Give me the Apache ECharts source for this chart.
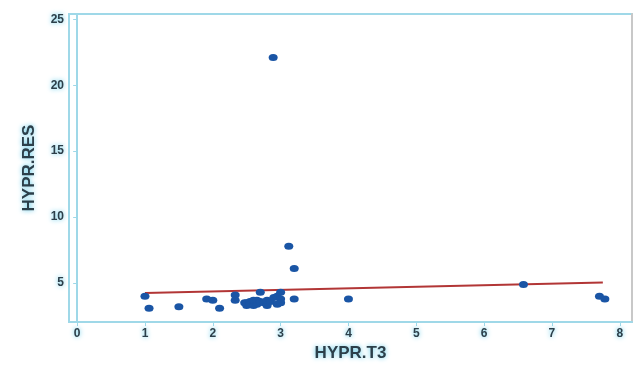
<!DOCTYPE html>
<html>
<head>
<meta charset="utf-8">
<script src="https://cdn.jsdelivr.net/npm/echarts@6/dist/echarts.min.js"></script>
<style>
  html, body { margin: 0; padding: 0; background: #fff; }
  #chart { width: 633px; height: 367px; }
</style>
</head>
<body>
<div id="chart"></div>
<script>
// HYPR.T3 vs HYPR.RES
var t3Values = [1.0, 1.06, 1.5, 1.91, 2.0, 2.1, 2.33, 2.33, 2.47,
  2.5, 2.5, 2.55, 2.55, 2.6, 2.6, 2.65, 2.65, 2.7, 2.7, 2.75, 2.8, 2.8,
  2.85, 2.9, 2.95, 2.95, 3.0, 3.0, 3.0, 2.89, 3.12, 3.2, 3.2, 4.0, 6.58, 7.7, 7.78];
var resValues = [4.0, 3.1, 3.2, 3.8, 3.7, 3.1, 4.1, 3.7, 3.5,
  3.3, 3.5, 3.6, 3.4, 3.3, 3.7, 3.4, 3.7, 4.3, 3.6, 3.5, 3.3, 3.7,
  3.6, 3.9, 3.4, 4.0, 4.3, 3.8, 3.5, 22.1, 7.8, 6.1, 3.8, 3.8, 4.9, 4.0, 3.8];
var fitLine = [[1.0, 4.25], [7.75, 5.05]];
var xTicks = [0, 1, 2, 3, 4, 5, 6, 7, 8];
var yTicks = [5, 10, 15, 20, 25];

var points = t3Values.map(function (x, i) { return [x, resValues[i]]; });

var glowText = {
  color: "#2c3f4a",
  textShadowColor: "#56c6e6",
  textShadowBlur: 5
};

var chart = echarts.init(document.getElementById("chart"));
var option = {
  animation: false,
  grid: {
    left: 69,
    top: 14,
    right: 1,
    bottom: 45,
    show: true,
    borderColor: "#9fd8e8",
    borderWidth: 2
  },
  xAxis: {
    type: "value",
    min: -0.12,
    max: 8.18,
    name: "HYPR.T3",
    nameLocation: "middle",
    nameGap: 15,
    nameTextStyle: Object.assign({ fontSize: 17, fontWeight: "bold", fontFamily: "Liberation Sans" }, glowText),
    axisLine: { lineStyle: { color: "#9fd8e8", width: 2 } },
    axisTick: { show: true, customValues: xTicks, length: 4, lineStyle: { color: "#9fd8e8" } },
    axisLabel: Object.assign({ customValues: xTicks, fontSize: 12, fontWeight: "bold", fontFamily: "Liberation Sans", margin: 6 }, glowText),
    splitLine: { show: false }
  },
  yAxis: [{
    type: "value",
    min: 2.05,
    max: 25.4,
    name: "HYPR.RES",
    nameLocation: "middle",
    nameGap: 31,
    nameTextStyle: Object.assign({ fontSize: 17, fontWeight: "bold", fontFamily: "Liberation Sans" }, glowText),
    axisLine: { lineStyle: { color: "#9fd8e8", width: 2 } },
    axisTick: { show: true, customValues: yTicks, length: 4, lineStyle: { color: "#9fd8e8" } },
    axisLabel: Object.assign({ customValues: yTicks, fontSize: 12, fontWeight: "bold", fontFamily: "Liberation Sans", margin: 5 }, glowText),
    splitLine: { show: false }
  }, {
    type: "value",
    position: "right",
    min: 2.05,
    max: 25.4,
    axisLine: { show: true, lineStyle: { color: "#c8c8c8", width: 2 } },
    axisTick: { show: false },
    axisLabel: { show: false },
    splitLine: { show: false }
  }],
  series: [{
    type: "line",
    data: fitLine,
    symbol: "none",
    lineStyle: { color: "#b23636", width: 2 },
    z: 2
  }, {
    type: "scatter",
    data: points,
    symbol: "circle",
    symbolSize: [9, 7],
    itemStyle: { color: "#1a55a5", opacity: 1 },
    z: 3
  }]
};
chart.setOption(option);
</script>
</body>
</html>
